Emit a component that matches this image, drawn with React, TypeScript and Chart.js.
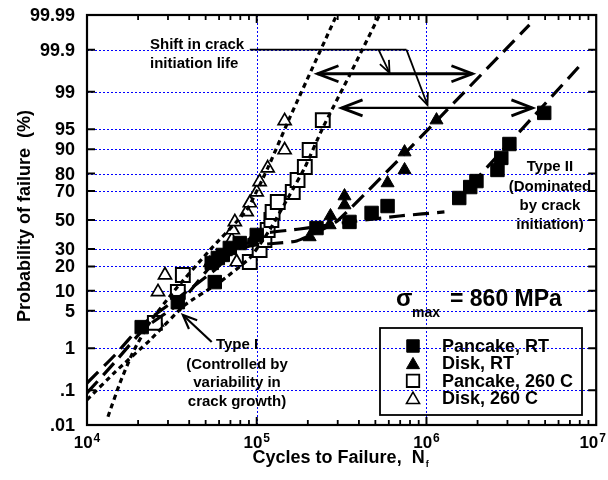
import { useEffect, useRef } from 'react';
import { Chart, registerables, Scale } from 'chart.js';

const FONT_FAMILY = '"Liberation Sans", Arial, Helvetica, sans-serif';

// Probability axis ticks (% failed) and their printed labels
const PROB_TICKS = [0.01, 0.1, 1, 5, 10, 20, 30, 50, 70, 80, 90, 95, 99, 99.9, 99.99];
const PROB_LABELS = ['.01', '.1', '1', '5', '10', '20', '30', '50', '70', '80', '90', '95', '99', '99.9', '99.99'];

// Cycle-axis decades and their exponents
const CYCLE_DECADES = [1e4, 1e5, 1e6, 1e7];
const DECADE_EXPONENTS = ['4', '5', '6', '7'];

const SERIES_NAMES = ['Pancake, RT', 'Disk, RT', 'Pancake, 260 C', 'Disk, 260 C'];

// Test results: [cycles to failure, probability of failure %]
const pancakeRT = [
  [21000, 2.6], [34300, 6.8], [56600, 13.0], [54300, 21.8], [59000, 24.5], [63100, 26.3],
  [69400, 30.6], [79400, 33.8], [100000, 39.3], [225000, 44.2], [352000, 48.6], [475000, 55.1],
  [590000, 60.0], [1560000, 65.5], [1810000, 72.5], [1970000, 76.0], [2620000, 81.8],
  [2760000, 87.0], [3080000, 91.6], [4940000, 97.4],
];
const diskRT = [
  [52900, 21.8], [58200, 24.5], [65800, 28.1], [93500, 35.2], [205000, 37.9], [269000, 46.4],
  [272000, 52.9], [329000, 60.7], [329000, 66.8], [590000, 74.9], [743000, 81.8], [743000, 89.1],
  [1146000, 96.5],
];
const pancake260 = [
  [25100, 3.1], [34300, 9.6], [36700, 15.9], [91000, 22.3], [104000, 29.3], [111000, 35.8],
  [116000, 42.8], [122000, 50.0], [124000, 55.8], [133000, 62.8], [163000, 69.4], [174000, 76.6],
  [192000, 83.2], [205000, 89.8], [245000, 96.5],
];
const disk260 = [
  [25800, 3.2], [26200, 9.6], [28800, 15.9], [76200, 22.3], [71300, 35.8], [72300, 42.8],
  [74300, 48.6], [87300, 55.8], [91000, 62.1], [100000, 69.4], [104000, 75.5], [116000, 82.7],
  [146000, 89.8], [146000, 96.4],
];

// Fitted distributions, sampled along each curve: [cycles, %]
const disk260Fit = [
  [13290, 0.018], [15630, 0.155], [18660, 0.83], [23500, 3.2], [32960, 10.2], [52960, 29.3],
  [87340, 57.2], [116100, 82.7], [156300, 96.8], [295600, 99.99],
];
const pancake260Fit = [
  [10000, 0.055], [14620, 0.29], [23500, 1.47], [37700, 6.16], [60600, 13.0], [91000, 24.5],
  [119100, 42.8], [156300, 67.5], [191400, 82.7], [244300, 95.2], [352400, 99.57], [529000, 99.99],
];
const diskRTFit = [
  [10000, 0.085], [14620, 0.5], [21930, 2.5], [35200, 6.6], [56600, 22.3], [91000, 31.9],
  [171900, 35.2], [303000, 50.0], [4040000, 99.98],
];
const pancakeRTFit = [
  [10000, 0.155], [14620, 0.716], [21060, 2.84], [34300, 7.85], [56600, 18.2], [79400, 32.5],
  [104100, 40.0], [179000, 43.5], [352400, 48.6], [693000, 52.9], [1276000, 55.8],
];
const pancakeRTTypeII = [[1462000, 62.1], [8280000, 99.78]];

// Inverse of the standard normal CDF (Acklam's rational approximation)
function probit(p: number): number {
  const q0 = Math.min(Math.max(p, 1e-12), 1 - 1e-12);
  const a = [-39.69683028665376, 220.9460984245205, -275.9285104469687, 138.357751867269, -30.66479806614716, 2.506628277459239];
  const b = [-54.47609879822406, 161.5858368580409, -155.6989798598866, 66.80131188771972, -13.28068155288572];
  const c = [-0.007784894002430293, -0.3223964580411365, -2.400758277161838, -2.549732539343734, 4.374664141464968, 2.938163982698783];
  const d = [0.007784695709041462, 0.3224671290700398, 2.445134137142996, 3.754408661907416];
  const lo = 0.02425;
  if (q0 < lo) {
    const q = Math.sqrt(-2 * Math.log(q0));
    return (((((c[0] * q + c[1]) * q + c[2]) * q + c[3]) * q + c[4]) * q + c[5]) / ((((d[0] * q + d[1]) * q + d[2]) * q + d[3]) * q + 1);
  }
  if (q0 > 1 - lo) {
    const q = Math.sqrt(-2 * Math.log(1 - q0));
    return -(((((c[0] * q + c[1]) * q + c[2]) * q + c[3]) * q + c[4]) * q + c[5]) / ((((d[0] * q + d[1]) * q + d[2]) * q + d[3]) * q + 1);
  }
  const q = q0 - 0.5;
  const r = q * q;
  return ((((((a[0] * r + a[1]) * r + a[2]) * r + a[3]) * r + a[4]) * r + a[5]) * q) / (((((b[0] * r + b[1]) * r + b[2]) * r + b[3]) * r + b[4]) * r + 1);
}

function normCdf(z: number): number {
  const t = 1 / (1 + 0.3275911 * Math.abs(z) / Math.SQRT2);
  const y = 1 - (((((1.061405429 * t - 1.453152027) * t) + 1.421413741) * t - 0.284496736) * t + 0.254829592) * t * Math.exp(-z * z / 2);
  return z >= 0 ? (1 + y) / 2 : (1 - y) / 2;
}

// Normal-probability ("probit") axis for percentages
class ProbitScale extends Scale {
  static id = 'probit';
  static defaults = {};
  determineDataLimits() {
    const self = this as any;
    self.min = self.options.min;
    self.max = self.options.max;
  }
  buildTicks() {
    return PROB_TICKS.map((value) => ({ value }));
  }
  configure() {
    super.configure();
    const self = this as any;
    self._zLo = probit(self.min / 100);
    self._zHi = probit(self.max / 100);
  }
  getLabelForValue(value: number) {
    return String(value);
  }
  getPixelForValue(value: number) {
    const self = this as any;
    return self.getPixelForDecimal((probit(value / 100) - self._zLo) / (self._zHi - self._zLo));
  }
  getValueForPixel(pixel: number) {
    const self = this as any;
    const dec = self.getDecimalForPixel(pixel);
    return normCdf(self._zLo + dec * (self._zHi - self._zLo)) * 100;
  }
  getBasePixel() {
    return this.getPixelForValue((this as any).min);
  }
}

Chart.register(...registerables, ProbitScale as any);

const toXY = (rows: number[][]) => rows.map(([x, y]) => ({ x, y }));

function drawMarker(ctx: CanvasRenderingContext2D, style: string, cx: number, cy: number, r: number, fill: string, lw: number) {
  ctx.beginPath();
  if (style === 'rect') {
    const s = r * Math.SQRT1_2;
    ctx.rect(cx - s, cy - s, 2 * s, 2 * s);
  } else {
    ctx.moveTo(cx, cy - r);
    ctx.lineTo(cx + 0.866 * r, cy + r / 2);
    ctx.lineTo(cx - 0.866 * r, cy + r / 2);
    ctx.closePath();
  }
  ctx.fillStyle = fill;
  ctx.fill();
  ctx.lineWidth = lw;
  ctx.strokeStyle = '#000';
  ctx.stroke();
}

function arrowHead(ctx: CanvasRenderingContext2D, fx: number, fy: number, tx: number, ty: number, len: number, half: number) {
  const ang = Math.atan2(ty - fy, tx - fx);
  const bx = tx - len * Math.cos(ang);
  const by = ty - len * Math.sin(ang);
  ctx.beginPath();
  ctx.moveTo(bx + half * Math.sin(ang), by - half * Math.cos(ang));
  ctx.lineTo(tx, ty);
  ctx.lineTo(bx - half * Math.sin(ang), by + half * Math.cos(ang));
  ctx.stroke();
}

const paperPlugin = {
  id: 'probabilityPaper',
  beforeDatasetsDraw(chart: any) {
    const { ctx, chartArea: a, scales } = chart;
    const xs = scales.x;
    const ys = scales.y;
    ctx.save();
    ctx.strokeStyle = '#0000ff';
    ctx.lineWidth = 1;
    ctx.setLineDash([2, 2]);
    PROB_TICKS.slice(1, -1).forEach((p) => {
      const py = Math.round(ys.getPixelForValue(p)) + 0.5;
      ctx.beginPath();
      ctx.moveTo(a.left, py);
      ctx.lineTo(a.right, py);
      ctx.stroke();
    });
    CYCLE_DECADES.slice(1, -1).forEach((n) => {
      const px = Math.round(xs.getPixelForValue(n)) + 0.5;
      ctx.beginPath();
      ctx.moveTo(px, a.top);
      ctx.lineTo(px, a.bottom);
      ctx.stroke();
    });
    ctx.restore();
  },
  afterDatasetsDraw(chart: any) {
    const { ctx, chartArea: a, scales } = chart;
    const xs = scales.x;
    const ys = scales.y;
    const X = (n: number) => xs.getPixelForValue(n);
    const Y = (p: number) => ys.getPixelForValue(p);
    ctx.save();
    ctx.setLineDash([]);
    ctx.strokeStyle = '#000';
    ctx.fillStyle = '#000';

    // frame
    ctx.lineWidth = 2.2;
    ctx.strokeRect(a.left, a.top, a.right - a.left, a.bottom - a.top);

    // probability ticks on both sides
    ctx.lineWidth = 2;
    PROB_TICKS.slice(1, -1).forEach((p) => {
      const py = Y(p);
      ctx.beginPath();
      ctx.moveTo(a.left, py);
      ctx.lineTo(a.left + 8, py);
      ctx.moveTo(a.right, py);
      ctx.lineTo(a.right - 8, py);
      ctx.stroke();
    });
    // cycle ticks, top and bottom
    for (let i = 0; i < CYCLE_DECADES.length - 1; i++) {
      for (let k = 1; k <= 9; k++) {
        const n = CYCLE_DECADES[i] * k;
        if (k === 1 && i === 0) continue;
        const px = X(n);
        const len = k === 1 ? 8 : 5;
        ctx.lineWidth = k === 1 ? 2 : 1.8;
        ctx.beginPath();
        ctx.moveTo(px, a.bottom);
        ctx.lineTo(px, a.bottom - len);
        ctx.moveTo(px, a.top);
        ctx.lineTo(px, a.top + len);
        ctx.stroke();
      }
    }

    // probability labels
    ctx.font = `bold 18px ${FONT_FAMILY}`;
    ctx.textAlign = 'right';
    ctx.textBaseline = 'middle';
    PROB_TICKS.forEach((p, i) => ctx.fillText(PROB_LABELS[i], a.left - 12, Y(p) + 1));

    // decade labels with superscript exponents
    ctx.textBaseline = 'alphabetic';
    ctx.textAlign = 'left';
    CYCLE_DECADES.forEach((n, i) => {
      ctx.font = `bold 17px ${FONT_FAMILY}`;
      const wBase = ctx.measureText('10').width;
      ctx.font = `bold 12px ${FONT_FAMILY}`;
      const wExp = ctx.measureText(DECADE_EXPONENTS[i]).width;
      let left = X(n) - (wBase + wExp + 1) / 2;
      left = Math.min(left, chart.width - 2 - (wBase + wExp + 1));
      ctx.font = `bold 17px ${FONT_FAMILY}`;
      ctx.fillText('10', left, a.bottom + 23);
      ctx.font = `bold 12px ${FONT_FAMILY}`;
      ctx.fillText(DECADE_EXPONENTS[i], left + wBase + 1, a.bottom + 17);
    });

    // axis titles
    ctx.font = `bold 18px ${FONT_FAMILY}`;
    const xTitle = 'Cycles to Failure,  N';
    const wt = ctx.measureText(xTitle).width;
    const tx = (a.left + a.right) / 2 - (wt + 6) / 2;
    ctx.fillText(xTitle, tx, a.bottom + 38);
    ctx.font = `bold 9px ${FONT_FAMILY}`;
    ctx.fillText('f', tx + wt + 1, a.bottom + 42);

    ctx.save();
    ctx.translate(30, (a.top + a.bottom) / 2 - 4);
    ctx.rotate(-Math.PI / 2);
    ctx.textAlign = 'center';
    ctx.font = `bold 18px ${FONT_FAMILY}`;
    ctx.fillText('Probability of failure  (%)', 0, 0);
    ctx.restore();

    // annotations: shift in crack initiation life
    ctx.font = `bold 15px ${FONT_FAMILY}`;
    ctx.textAlign = 'left';
    ctx.textBaseline = 'middle';
    ctx.fillText('Shift in crack', 150, 45);
    ctx.fillText('initiation life', 150, 64);

    ctx.lineWidth = 1.8;
    ctx.beginPath();
    ctx.moveTo(X(91000), Y(99.9));
    ctx.lineTo(X(762000), Y(99.9));
    ctx.stroke();
    const downArrows = [
      [522000, 99.9, 606000, 99.62],
      [762000, 99.9, 1014000, 98.15],
    ];
    downArrows.forEach(([n0, p0, n1, p1]) => {
      ctx.beginPath();
      ctx.moveTo(X(n0), Y(p0));
      ctx.lineTo(X(n1), Y(p1));
      ctx.stroke();
      arrowHead(ctx, X(n0), Y(p0), X(n1), Y(p1), 12, 5);
    });

    const spans = [
      [228000, 1866000, 99.6, 3],
      [316000, 4210000, 97.9, 2.4],
    ];
    spans.forEach(([n0, n1, p, lw]) => {
      const y = Y(p);
      ctx.lineWidth = lw;
      ctx.beginPath();
      ctx.moveTo(X(n0), y);
      ctx.lineTo(X(n1), y);
      ctx.stroke();
      ctx.lineWidth = 2.8;
      arrowHead(ctx, X(n1), y, X(n0), y, 21, 8);
      arrowHead(ctx, X(n0), y, X(n1), y, 21, 8);
    });

    // Type I note and its pointer
    ctx.lineWidth = 2.2;
    ctx.beginPath();
    ctx.moveTo(X(54300), Y(1.34));
    ctx.lineTo(X(36700), Y(4.24));
    ctx.stroke();
    arrowHead(ctx, X(54300), Y(1.34), X(36700), Y(4.24), 14, 6);

    ctx.textAlign = 'center';
    ['Type I', '(Controlled by', 'variability in', 'crack growth)'].forEach((t, i) =>
      ctx.fillText(t, 237, [345, 365, 383, 402][i]),
    );
    ['Type II', '(Dominated', 'by crack', 'initiation)'].forEach((t, i) =>
      ctx.fillText(t, 550, [167, 187, 206, 225][i]),
    );

    // stress level
    ctx.textAlign = 'left';
    ctx.font = `bold 24px ${FONT_FAMILY}`;
    ctx.fillText('σ', 396, 299);
    ctx.font = `bold 14px ${FONT_FAMILY}`;
    ctx.fillText('max', 412, 313);
    ctx.font = `bold 23px ${FONT_FAMILY}`;
    ctx.fillText('= 860 MPa', 450, 300);

    // legend
    ctx.lineWidth = 1.8;
    ctx.strokeRect(380, 328, 202, 87);
    const styles: [string, string, number][] = [
      ['rect', '#000', 1],
      ['triangle', '#000', 1],
      ['rect', '#fff', 1.8],
      ['triangle', '#fff', 1.6],
    ];
    ctx.font = `bold 18px ${FONT_FAMILY}`;
    SERIES_NAMES.forEach((name, i) => {
      const cy = 346 + i * 17.4;
      const [st, fill, lw] = styles[i];
      drawMarker(ctx, st, 413, st === 'rect' ? cy : cy + 1.5, st === 'rect' ? 8.8 : 7.5, fill, lw);
      ctx.fillStyle = '#000';
      ctx.fillText(name, 442, cy + 1);
    });

    ctx.restore();
  },
};

function lineSet(rows: number[][], dash: number[], width: number) {
  return {
    data: toXY(rows),
    showLine: true,
    borderColor: '#000',
    borderWidth: width,
    borderDash: dash,
    borderCapStyle: 'butt',
    pointRadius: 0,
    fill: false,
    tension: 0.15,
  };
}

function markerSet(rows: number[][], style: string, radius: number, fill: string, lw: number) {
  return {
    data: toXY(rows),
    showLine: false,
    pointStyle: style,
    pointRadius: radius,
    pointBackgroundColor: fill,
    pointBorderColor: '#000',
    pointBorderWidth: lw,
  };
}

export default function App() {
  const canvasRef = useRef<HTMLCanvasElement | null>(null);

  useEffect(() => {
    const canvas = canvasRef.current;
    if (!canvas) return;
    const shortDash = [5, 4];
    const longDash = [16, 8];
    const chart = new Chart(canvas, {
      type: 'line',
      data: {
        datasets: [
          lineSet(disk260Fit, shortDash, 3.2),
          lineSet(pancake260Fit, shortDash, 3.2),
          lineSet(diskRTFit, longDash, 3.2),
          lineSet(pancakeRTFit, longDash, 3.2),
          lineSet(pancakeRTTypeII, longDash, 3.2),
          markerSet(pancakeRT, 'rect', 9.5, '#000', 1),
          markerSet(diskRT, 'triangle', 7.5, '#000', 1),
          markerSet(pancake260, 'rect', 9.8, '#fff', 2),
          markerSet(disk260, 'triangle', 7.5, '#fff', 1.7),
        ] as any,
      },
      options: {
        responsive: false,
        animation: false,
        events: [],
        layout: { padding: { top: 15, right: 11, left: 0, bottom: 0 } },
        plugins: { legend: { display: false }, tooltip: { enabled: false } },
        scales: {
          x: {
            type: 'logarithmic',
            min: 1e4,
            max: 1e7,
            grid: { display: false },
            border: { display: false },
            ticks: { display: false },
            afterBuildTicks: (s: any) => {
              s.ticks = CYCLE_DECADES.map((value) => ({ value }));
            },
            afterFit: (s: any) => {
              s.height = 55;
            },
          },
          y: {
            type: 'probit',
            min: 0.01,
            max: 99.99,
            grid: { display: false },
            border: { display: false },
            ticks: { display: false },
            afterFit: (s: any) => {
              s.width = 87;
            },
          },
        } as any,
      },
      plugins: [paperPlugin],
    });
    return () => chart.destroy();
  }, []);

  return (
    <div style={{ position: 'fixed', left: 0, top: 0, width: 608, height: 480, background: '#fff' }}>
      <canvas ref={canvasRef} width={608} height={480} />
    </div>
  );
}
